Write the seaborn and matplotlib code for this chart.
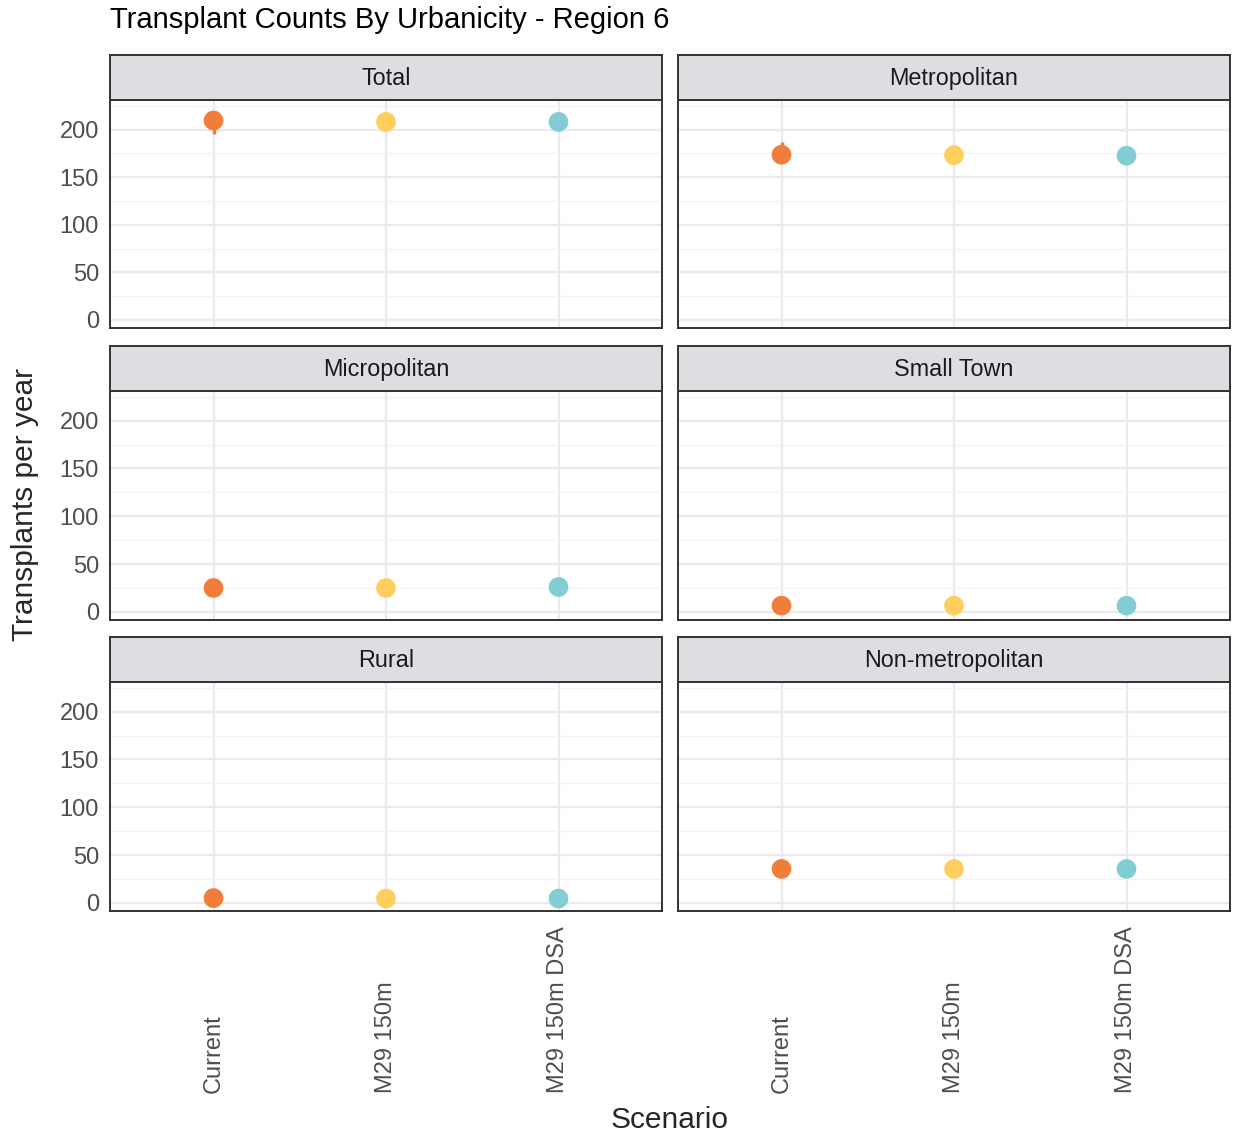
import matplotlib
matplotlib.use('Agg')
import matplotlib.pyplot as plt
import matplotlib.transforms as mtransforms
import seaborn as sns
import pandas as pd

# data
panels = ['Total', 'Metropolitan', 'Micropolitan', 'Small Town', 'Rural', 'Non-metropolitan']
scenarios = ['Current', 'M29 150m', 'M29 150m DSA']
colors = ['#F07D3A', '#FFCE5C', '#82CDD3']

means = {
    'Total':            [209.5, 208.0, 208.0],
    'Metropolitan':     [173.5, 173.0, 172.5],
    'Micropolitan':     [25.0, 25.0, 26.0],
    'Small Town':       [6.5, 6.5, 6.5],
    'Rural':            [5.0, 4.5, 4.5],
    'Non-metropolitan': [35.5, 35.5, 35.5],
}
lows = {
    'Total':            [195.0, 201.0, 198.0],
    'Metropolitan':     [168.0, 168.5, 169.0],
    'Micropolitan':     [23.0, 23.0, 24.0],
    'Small Town':       [5.5, 5.5, 5.5],
    'Rural':            [4.0, 3.5, 3.5],
    'Non-metropolitan': [34.0, 34.0, 34.0],
}
highs = {
    'Total':            [213.0, 218.0, 212.0],
    'Metropolitan':     [187.0, 183.5, 176.0],
    'Micropolitan':     [27.0, 27.0, 28.0],
    'Small Town':       [7.5, 7.5, 7.5],
    'Rural':            [6.0, 5.5, 5.5],
    'Non-metropolitan': [37.0, 37.0, 37.0],
}

rows = []
for p in panels:
    for i, s in enumerate(scenarios):
        rows.append({'panel': p, 'Scenario': s, 'value': means[p][i],
                     'lo': lows[p][i], 'hi': highs[p][i]})
df = pd.DataFrame(rows)

sns.set_style('white')
plt.rcParams['font.family'] = ['Liberation Sans', 'DejaVu Sans']

W, H = 1235, 1137
fig = plt.figure(figsize=(W / 100, H / 100), dpi=100)

def fx(px):
    return px / W

def fy(px):
    return 1 - px / H

col_x = [(110, 662), (678, 1230)]
row_y = [(55, 100, 328), (346, 391, 620), (637, 682, 911)]
palette = dict(zip(scenarios, colors))
frame_col = '#333333'

for k, p in enumerate(panels):
    r, c = divmod(k, 2)
    x0, x1 = col_x[c]
    s0, p0, p1 = row_y[r]
    ax = fig.add_axes([fx(x0), fy(p1), fx(x1 - x0), (p1 - p0) / H])
    sub = df[df['panel'] == p]
    ax.vlines(range(3), sub['lo'], sub['hi'], colors=colors, lw=2.5, zorder=3)
    sns.scatterplot(data=sub, x='Scenario', y='value', hue='Scenario', palette=palette,
                    s=200, edgecolor='none', legend=False, ax=ax, zorder=4)
    ax.set_xlim(-0.6, 2.6)
    ax.set_ylim(-8.5, 231)
    ax.set_yticks([0, 50, 100, 150, 200])
    ax.set_yticks([25, 75, 125, 175, 225], minor=True)
    ax.grid(which='major', color='#EBE9ED', lw=1.6)
    ax.grid(which='minor', axis='y', color='#F3F2F4', lw=0.9)
    ax.set_axisbelow(True)
    ax.set_xlabel('')
    ax.set_ylabel('')
    for sp in ax.spines.values():
        sp.set_color(frame_col)
        sp.set_linewidth(1.4)
    ax.tick_params(axis='x', which='both', length=0, labelbottom=False)
    ax.tick_params(axis='y', which='minor', length=0)
    if c == 0:
        ax.tick_params(axis='y', which='major', length=5, width=1.2, color=frame_col,
                       labelsize=17, labelcolor='#4D4D4D', pad=3)
    else:
        ax.tick_params(axis='y', which='major', length=0, labelleft=False)
    if r == 2:
        ax.tick_params(axis='x', which='major', length=5, width=1.2, color=frame_col)
        trans = mtransforms.blended_transform_factory(ax.transData, fig.transFigure)
        for i, s in enumerate(scenarios):
            fig.text(i, fy(1093), s, transform=trans, rotation=90, ha='center',
                     va='bottom', fontsize=17, color='#4D4D4D')

    # strip header
    sax = fig.add_axes([fx(x0), fy(p0), fx(x1 - x0), (p0 - s0) / H])
    sax.set_facecolor('#DEDDE1')
    sax.set_xticks([])
    sax.set_yticks([])
    for sp in sax.spines.values():
        sp.set_color(frame_col)
        sp.set_linewidth(1.4)
    sax.text(0.5, 0.48, p, ha='center', va='center', fontsize=16.8, color='#1A1A1A',
             transform=sax.transAxes)

fig.text(fx(110), fy(20), 'Transplant Counts By Urbanicity - Region 6', fontsize=21,
         ha='left', va='center', color='black')
fig.text(fx(670), fy(1120), 'Scenario', fontsize=21.5, ha='center', va='center')
fig.text(fx(25), fy(505), 'Transplants per year', fontsize=21.5, rotation=90,
         ha='center', va='center')

fig.savefig('out.png', dpi=100, facecolor='white')
